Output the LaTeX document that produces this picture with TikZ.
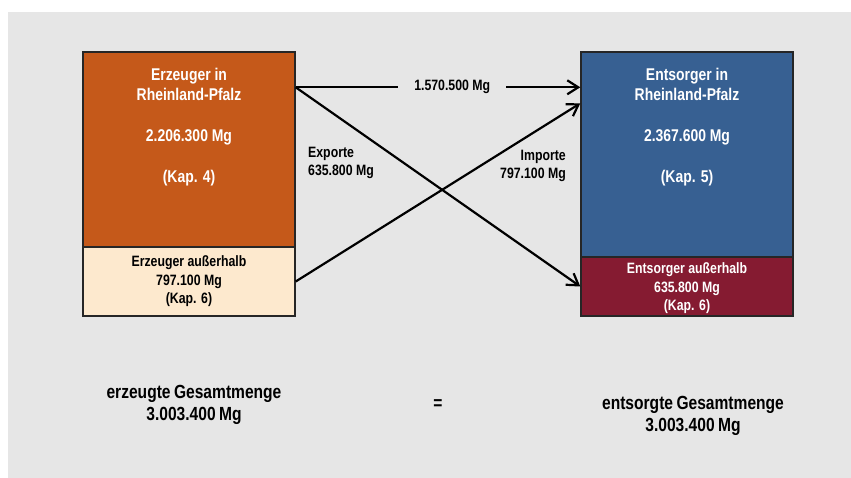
\documentclass[tikz,border=0pt]{standalone}
\usepackage{fontspec}
\setmainfont{Liberation Sans}[FakeStretch=0.82]
\usetikzlibrary{arrows.meta}
\definecolor{bggray}{RGB}{230,230,230}
\definecolor{erzorange}{RGB}{197,89,26}
\definecolor{erzpeach}{RGB}{253,233,206}
\definecolor{entblue}{RGB}{55,96,146}
\definecolor{entred}{RGB}{133,27,49}
\newcommand{\tightwords}{\spaceskip=0.18em\relax}
\tikzset{
  box/.style={draw=black!85, line width=1.4pt, minimum width=212pt, inner sep=0pt},
  bigtxt/.style={font=\bfseries\fontsize{17}{20.3}\selectfont, align=center, inner sep=0pt},
  smalltxt/.style={font=\bfseries\fontsize{15}{18.5}\selectfont, align=center, inner sep=0pt},
  flowtxt/.style={font=\bfseries\fontsize{15}{18}\selectfont, inner sep=0pt},
  sumtxt/.style={font={\bfseries\fontsize{19}{22}\selectfont\tightwords}, align=center, inner sep=0pt},
  flow/.style={line width=2.2pt, -{Straight Barb[length=11pt,width=14pt,line width=2.2pt]}},
}
\begin{document}
\begin{tikzpicture}[x=1pt, y=-1pt]
  \useasboundingbox (0,0) rectangle (851,478);
  \fill[bggray] (8,12) rectangle (851,478);

  % producers
  \node[box, fill=erzorange, minimum height=195pt] (erzRP) at (189,149.5) {};
  \node[box, fill=erzpeach, minimum height=69pt] (erzAus) at (189,281.5) {};
  % disposers
  \node[box, fill=entblue, minimum height=205pt] (entRP) at (687,154.5) {};
  \node[box, fill=entred, minimum height=59pt] (entAus) at (687,286.5) {};

  \node[bigtxt, text=white, anchor=north] (erzRPtxt) at (189,68)
    {Erzeuger in\\Rheinland-Pfalz\\[20.3pt]2.206.300 Mg\\[20.3pt](Kap. 4)};
  \node[smalltxt, text=black] (erzAustxt) at (189,281.5)
    {Erzeuger außerhalb\\797.100 Mg\\(Kap. 6)};
  \node[bigtxt, text=white, anchor=north] (entRPtxt) at (687,68)
    {Entsorger in\\Rheinland-Pfalz\\[20.3pt]2.367.600 Mg\\[20.3pt](Kap. 5)};
  \node[smalltxt, text=white] (entAustxt) at (687,288.5)
    {Entsorger außerhalb\\635.800 Mg\\(Kap. 6)};

  % flows between the regions
  \draw[flow] ([yshift=-36pt]erzRP.north east)
    -- node[pos=0.55, flowtxt, fill=bggray, inner xsep=16pt, inner ysep=3pt] (inland) {1.570.500 Mg}
    ([yshift=-36pt]entRP.north west);
  \draw[flow] ([yshift=-36pt]erzRP.north east) -- (entAus.west);
  \draw[flow] (erzAus.east) -- ([yshift=-52pt]entRP.north west);

  \node[flowtxt, align=left, anchor=west] (export) at (308,163) {Exporte\\635.800 Mg};
  \node[flowtxt, align=right, anchor=east] (import) at (566,166) {Importe\\797.100 Mg};

  % totals
  \node[sumtxt] (sumErz) at (194,404.5) {erzeugte Gesamtmenge\\3.003.400 Mg};
  \node[sumtxt] (gleich) at (438,405) {=};
  \node[sumtxt] (sumEnt) at (693,416) {entsorgte Gesamtmenge\\3.003.400 Mg};
\end{tikzpicture}
\end{document}
